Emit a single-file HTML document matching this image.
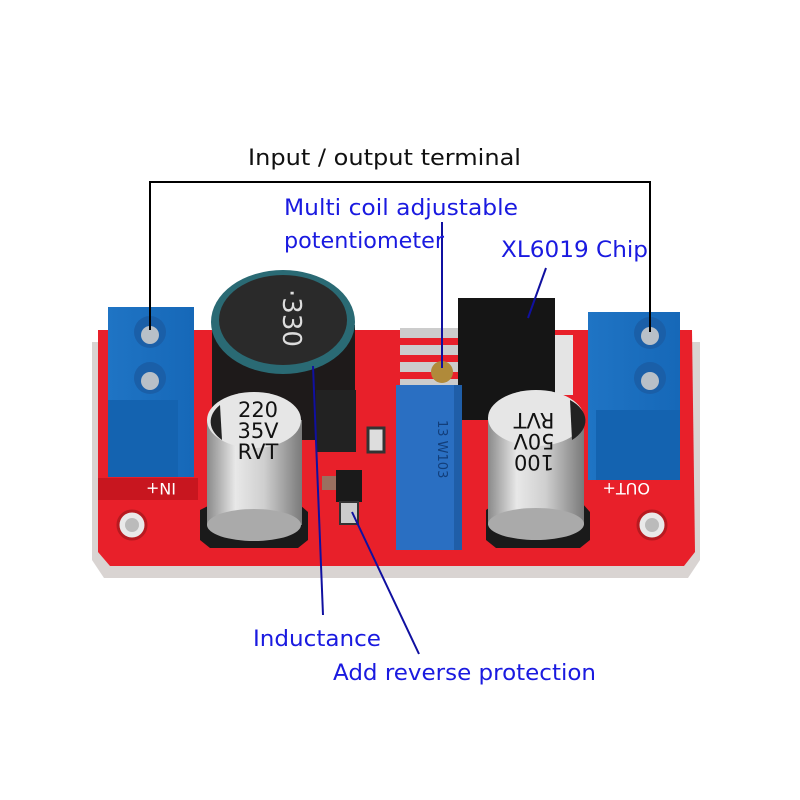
<!DOCTYPE html>
<html><head><meta charset="utf-8"><style>
html,body{margin:0;padding:0;background:#fff;}
svg{display:block;}
text{font-family:"DejaVu Sans","Liberation Sans",sans-serif;}
</style></head><body>
<svg width="800" height="800" viewBox="0 0 800 800" xmlns="http://www.w3.org/2000/svg">
<defs>
<linearGradient id="cap" x1="0" x2="1" y1="0" y2="0">
<stop offset="0" stop-color="#8a8a8a"/><stop offset="0.3" stop-color="#e8e8e8"/><stop offset="0.6" stop-color="#cfcfcf"/><stop offset="1" stop-color="#7a7a7a"/>
</linearGradient>
<linearGradient id="blue" x1="0" x2="1"><stop offset="0" stop-color="#1f74c4"/><stop offset="1" stop-color="#1668b8"/></linearGradient>
</defs>
<!-- board -->
<path d="M92 342 L700 342 L700 560 L688 578 L104 578 L92 560 Z" fill="#d9d4d2"/>
<path d="M98 330 L692 330 L695 552 L684 566 L110 566 L98 552 Z" fill="#e8202a"/>
<path d="M98 478 L198 478 L198 500 L98 500 Z" fill="#c8161f"/>
<text x="124" y="495" font-size="16" fill="#fff" transform="rotate(180 150 489)">IN+</text>
<text x="600" y="495" font-size="16" fill="#fff" transform="rotate(180 625 489)">OUT+</text>
<circle cx="132" cy="525" r="14" fill="#e9e9e9" stroke="#b71a20" stroke-width="3"/><circle cx="132" cy="525" r="7" fill="#bbb"/>
<circle cx="652" cy="525" r="14" fill="#e9e9e9" stroke="#b71a20" stroke-width="3"/><circle cx="652" cy="525" r="7" fill="#bbb"/>
<!-- left terminal -->
<rect x="108" y="307" width="86" height="170" fill="url(#blue)"/>
<rect x="108" y="400" width="70" height="77" fill="#1463b0"/>
<circle cx="150" cy="332" r="16" fill="#1a5fa8"/><circle cx="150" cy="335" r="9" fill="#b8c0c8"/>
<circle cx="150" cy="378" r="16" fill="#1a5fa8"/><circle cx="150" cy="381" r="9" fill="#b8c0c8"/>
<!-- right terminal -->
<rect x="588" y="312" width="92" height="168" fill="url(#blue)"/>
<rect x="596" y="410" width="84" height="70" fill="#1463b0"/>
<circle cx="650" cy="333" r="16" fill="#1a5fa8"/><circle cx="650" cy="336" r="9" fill="#b8c0c8"/>
<circle cx="650" cy="378" r="16" fill="#1a5fa8"/><circle cx="650" cy="381" r="9" fill="#b8c0c8"/>
<!-- chip pins -->
<rect x="400" y="328" width="62" height="10" fill="#ccc"/>
<rect x="400" y="345" width="62" height="10" fill="#ccc"/>
<rect x="400" y="362" width="62" height="10" fill="#ccc"/>
<rect x="400" y="379" width="62" height="10" fill="#ccc"/>
<!-- chip -->
<rect x="458" y="298" width="97" height="122" fill="#151515"/>
<rect x="555" y="335" width="18" height="60" fill="#e4e4e4"/>
<!-- inductor -->
<path d="M212 325 L212 440 L355 440 L355 325 Z" fill="#1e1a1a"/>
<rect x="316" y="390" width="40" height="62" fill="#222"/>
<ellipse cx="283" cy="322" rx="72" ry="52" fill="#2a6a74"/>
<ellipse cx="283" cy="320" rx="64" ry="45" fill="#2a2a2a"/>
<text x="283" y="318" font-size="26" fill="#ddd" text-anchor="middle" transform="rotate(90 283 318)">·330</text>
<!-- small parts -->
<rect x="368" y="428" width="16" height="24" fill="#ddd" stroke="#333" stroke-width="3"/>
<rect x="322" y="476" width="22" height="14" fill="#9a7060"/>
<rect x="336" y="470" width="26" height="32" fill="#1a1a1a"/>
<rect x="340" y="502" width="18" height="22" fill="#ccc" stroke="#333" stroke-width="2"/>
<!-- pot -->
<rect x="396" y="385" width="66" height="165" fill="#2a6fc2"/>
<rect x="454" y="385" width="8" height="165" fill="#1f5ea8"/>
<circle cx="442" cy="372" r="11" fill="#b08a3a"/>
<text x="418" y="420" font-size="13" fill="#123e7a" transform="rotate(90 428 430)">13 W103</text>
<!-- left cap -->
<path d="M200 510 L210 505 L300 505 L308 512 L308 540 L298 548 L210 548 L200 540 Z" fill="#1a1a1a"/>
<rect x="207" y="420" width="95" height="105" fill="url(#cap)"/>
<ellipse cx="254" cy="525" rx="47" ry="16" fill="#aaa"/>
<ellipse cx="254" cy="420" rx="47" ry="28" fill="#e6e6e6"/>
<path d="M220 405 A47 28 0 0 0 222 440 Z" fill="#222"/>
<text x="258" y="417" font-size="21" fill="#111" text-anchor="middle">220</text>
<text x="258" y="438" font-size="21" fill="#111" text-anchor="middle">35V</text>
<text x="258" y="459" font-size="21" fill="#111" text-anchor="middle">RVT</text>
<!-- right cap -->
<path d="M486 510 L496 503 L582 503 L590 512 L590 540 L580 548 L496 548 L486 540 Z" fill="#1a1a1a"/>
<rect x="488" y="418" width="96" height="107" fill="url(#cap)"/>
<ellipse cx="536" cy="524" rx="48" ry="16" fill="#aaa"/>
<ellipse cx="536" cy="418" rx="48" ry="28" fill="#e6e6e6"/>
<path d="M570 400 A48 28 0 0 1 572 440 Z" fill="#222"/>
<g transform="rotate(180 534 436)">
<text x="534" y="417" font-size="21" fill="#111" text-anchor="middle">100</text>
<text x="534" y="438" font-size="21" fill="#111" text-anchor="middle">50V</text>
<text x="534" y="459" font-size="21" fill="#111" text-anchor="middle">RVT</text>
</g>
<!-- lines -->
<polyline points="150,330 150,182 650,182 650,332" fill="none" stroke="#000" stroke-width="2"/>
<line x1="442" y1="222" x2="442" y2="368" stroke="#1010a0" stroke-width="2"/>
<line x1="546" y1="268" x2="528" y2="318" stroke="#1010a0" stroke-width="2"/>
<line x1="313" y1="366" x2="323" y2="615" stroke="#1010a0" stroke-width="2"/>
<line x1="352" y1="512" x2="419" y2="654" stroke="#1010a0" stroke-width="2"/>
<!-- labels -->
<text x="248" y="165" font-size="22" fill="#111" textLength="273" lengthAdjust="spacingAndGlyphs">Input / output terminal</text>
<text x="284" y="215" font-size="22" fill="#1a1ae0" textLength="234" lengthAdjust="spacingAndGlyphs">Multi coil adjustable</text>
<text x="284" y="248" font-size="22" fill="#1a1ae0" textLength="160" lengthAdjust="spacingAndGlyphs">potentiometer</text>
<text x="501" y="257" font-size="22" fill="#1a1ae0" textLength="147" lengthAdjust="spacingAndGlyphs">XL6019 Chip</text>
<text x="253" y="646" font-size="22" fill="#1a1ae0" textLength="128" lengthAdjust="spacingAndGlyphs">Inductance</text>
<text x="333" y="680" font-size="22" fill="#1a1ae0" textLength="263" lengthAdjust="spacingAndGlyphs">Add reverse protection</text>
</svg>
</body></html>
